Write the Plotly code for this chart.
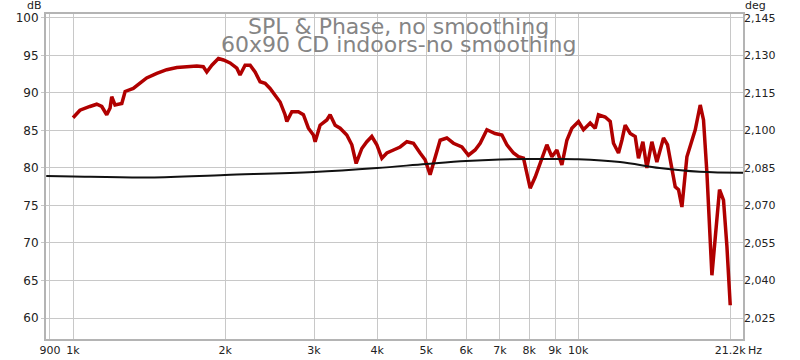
import plotly.graph_objects as go

# SPL trace (Hz, dB)
spl_freq = [1000, 1032, 1080, 1114, 1140, 1166, 1184, 1193, 1211, 1249, 1268, 1316, 1357, 1399,
            1465, 1533, 1605, 1680, 1758, 1811, 1840, 1883, 1940, 1985,
            2046, 2110, 2141, 2191, 2242, 2293, 2346, 2400, 2455, 2512, 2570, 2629, 2650, 2711,
            2793, 2858, 2924, 2991, 3015, 3084, 3180, 3228, 3303, 3379, 3483, 3564, 3635, 3730,
            3816, 3904, 3994, 4087, 4181, 4309, 4442, 4580, 4720, 4865, 4977, 5092, 5210, 5330,
            5495, 5663, 5885, 6065, 6252, 6397, 6596, 6847, 7063, 7226, 7447, 7618, 7794, 7915,
            8035, 8221, 8411, 8670, 8870, 9075, 9284, 9498, 9716, 10014, 10245, 10563, 10806,
            10970, 11310, 11572, 11747, 12018, 12205, 12391, 12677, 12969, 13165, 13431, 13677,
            13993, 14316, 14754, 15025, 15330, 15565, 15800, 16046, 16416, 17050, 17443, 17706,
            17985, 18397, 19046, 19396, 19701, 20000]
spl_db = [86.7, 87.7, 88.2, 88.5, 88.2, 87.1, 88.0, 89.5, 88.4, 88.6, 90.2, 90.6, 91.3, 92.0,
          92.6, 93.1, 93.4, 93.5, 93.6, 93.5, 92.8, 93.7, 94.6, 94.4,
          94.0, 93.3, 92.4, 93.7, 93.7, 92.8, 91.5, 91.3, 90.6, 89.7, 88.8, 87.1, 86.2, 87.5,
          87.5, 87.1, 85.3, 84.4, 83.5, 85.7, 86.4, 87.1, 85.7, 85.3, 84.4, 83.1, 80.6, 82.6,
          83.5, 84.2, 83.1, 81.3, 82.0, 82.4, 82.8, 83.5, 83.3, 82.0, 81.1, 79.1, 81.5, 83.7,
          84.0, 83.3, 82.8, 81.7, 82.4, 83.3, 85.1, 84.6, 84.4, 83.1, 82.0, 81.5, 81.3, 79.3,
          77.3, 78.8, 80.6, 83.1, 81.5, 82.4, 80.4, 83.7, 85.3, 86.2, 85.1, 86.0, 85.3,
          87.1, 86.8, 86.2, 83.3, 82.0, 83.7, 85.7, 84.6, 84.2, 81.3, 83.5, 80.0,
          83.5, 80.8, 84.0, 83.1, 79.7, 77.5, 77.1, 74.8, 81.5, 85.1, 88.4, 86.4,
          79.3, 65.7, 77.1, 75.7, 69.5, 61.7]

# Phase trace (Hz, deg)
phase_freq = [885, 1000, 1420, 2000, 3000, 4000, 5000, 6000, 7000, 8000, 9000, 10000,
              12100, 14500, 17400, 21200]
phase_deg = [2081.8, 2081.6, 2081.2, 2082.2, 2083.4, 2085.0, 2086.6, 2087.8, 2088.4, 2088.6,
             2088.6, 2088.5, 2087.4, 2085.0, 2083.5, 2083.1]

# Axis ticks
x_tick_vals = [900, 1000, 2000, 3000, 4000, 5000, 6000, 7000, 8000, 9000, 10000, 20000]
x_tick_text = ["900", "1k", "2k", "3k", "4k", "5k", "6k", "7k", "8k", "9k", "10k", "21.2k"]
db_ticks = [60, 65, 70, 75, 80, 85, 90, 95, 100]
deg_ticks = [2025, 2040, 2055, 2070, 2085, 2100, 2115, 2130, 2145]
deg_tick_text = ["2,025", "2,040", "2,055", "2,070", "2,085", "2,100", "2,115", "2,130", "2,145"]

title_1 = "SPL & Phase, no smoothing"
title_2 = "60x90 CD indoors-no smoothing"

FONT = "DejaVu Sans"
GRID = "#c8c8c8"
FRAME = "#b4b4b4"

fig = go.Figure()
fig.add_trace(go.Scatter(x=phase_freq, y=phase_deg, mode="lines", yaxis="y2",
                         line=dict(color="#111111", width=2, shape="spline"),
                         hoverinfo="skip", showlegend=False))
fig.add_trace(go.Scatter(x=spl_freq, y=spl_db, mode="lines",
                         line=dict(color="#b00000", width=3.5),
                         showlegend=False))

db_lo, db_hi = 57.2, 100.53
fig.update_layout(
    width=800, height=360,
    margin=dict(l=46, r=57, t=14, b=21, autoexpand=False),
    paper_bgcolor="white", plot_bgcolor="white",
    font=dict(family=FONT, size=11, color="#222222"),
    xaxis=dict(type="log", range=[2.9465, 4.3263], tickvals=x_tick_vals, ticktext=x_tick_text,
               showgrid=True, gridcolor=GRID, gridwidth=1, zeroline=False, automargin=False,
               showline=True, linecolor=FRAME, linewidth=2, mirror=True,
               ticks="", tickfont=dict(size=11, color="#222222")),
    yaxis=dict(range=[db_lo, db_hi], tickvals=db_ticks, showgrid=True, gridcolor=GRID,
               zeroline=False, showline=True, linecolor=FRAME, linewidth=2, mirror=True,
               ticks="outside", ticklen=3, tickcolor=GRID, automargin=False,
               tickfont=dict(size=12, color="#222222")),
    yaxis2=dict(range=[2025 + (db_lo - 60) * 3, 2025 + (db_hi - 60) * 3], overlaying="y",
                side="right", tickvals=deg_ticks, ticktext=deg_tick_text, showgrid=False,
                zeroline=False, showline=False, ticks="", automargin=False,
                tickfont=dict(size=11, color="#222222")),
)

fig.add_annotation(text=title_1, xref="paper", yref="paper", x=0.5, y=(339 - 26) / 325,
                   xshift=4, yanchor="middle", showarrow=False,
                   font=dict(family=FONT, size=22, color="#858585"))
fig.add_annotation(text=title_2, xref="paper", yref="paper", x=0.5, y=(339 - 44) / 325,
                   xshift=4, yanchor="middle", showarrow=False,
                   font=dict(family=FONT, size=22, color="#858585"))
fig.add_annotation(text="dB", xref="paper", yref="paper", x=-0.016, y=1.0, yshift=9,
                   showarrow=False, xanchor="center", yanchor="middle",
                   font=dict(family=FONT, size=11, color="#222222"))
fig.add_annotation(text="deg", xref="paper", yref="paper", x=1.0, y=1.0, xshift=12, yshift=9,
                   showarrow=False, xanchor="center", yanchor="middle",
                   font=dict(family=FONT, size=11, color="#222222"))
fig.add_annotation(text="Hz", xref="paper", yref="paper", x=1.0, y=0, xshift=12, yshift=-11,
                   showarrow=False, xanchor="center", yanchor="middle",
                   font=dict(family=FONT, size=11, color="#222222"))

fig.write_html("out.html", config={"displayModeBar": False},
               post_script="document.body.style.margin='0';document.body.style.overflow='hidden';")
